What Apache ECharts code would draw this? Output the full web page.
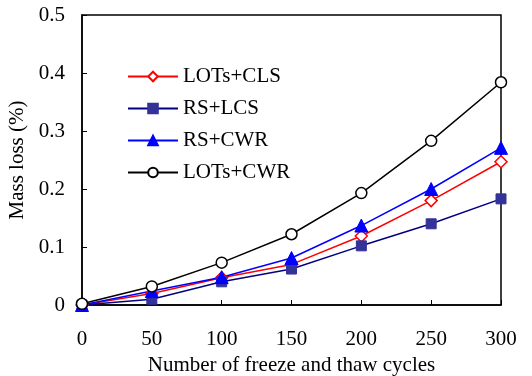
<!DOCTYPE html>
<html>
<head>
<meta charset="UTF-8">
<script src="https://cdn.jsdelivr.net/npm/echarts@6/dist/echarts.min.js"></script>
<style>
    html, body { margin: 0; padding: 0; background: #fff; }
    #chart { width: 532px; height: 376px; }
</style>
</head>
<body>
<div id="chart"></div>
<script>
    // 数据
    var cycles = [0, 50, 100, 150, 200, 250, 300];
    var lotsCls = [0, 0.02, 0.047, 0.07, 0.119, 0.18, 0.247];
    var rsLcs = [0, 0.01, 0.04, 0.062, 0.102, 0.14, 0.183];
    var rsCwr = [0, 0.024, 0.048, 0.081, 0.137, 0.2, 0.271];
    var lotsCwr = [0.002, 0.032, 0.073, 0.122, 0.193, 0.283, 0.384];

    function pairs(ys) {
        return cycles.map(function (x, i) { return [x, ys[i]]; });
    }

    var font = 'Liberation Serif';
    var chart = echarts.init(document.getElementById('chart'));
    var option = {
        animation: false,
        textStyle: { fontFamily: font },
        grid: {
            left: 82, right: 31, top: 15, bottom: 71,
            outerBoundsMode: 'none', containLabel: false,
            show: true, borderColor: '#000', borderWidth: 1.5
        },
        legend: {
            orient: 'vertical',
            left: 122, top: 61,
            itemWidth: 50, itemHeight: 12, itemGap: 11,
            textStyle: { fontFamily: font, fontSize: 21, color: '#000' },
            data: ['LOTs+CLS', 'RS+LCS', 'RS+CWR', 'LOTs+CWR']
        },
        xAxis: {
            type: 'value',
            min: 0, max: 300, interval: 50,
            name: 'Number of freeze and thaw cycles',
            nameLocation: 'middle', nameGap: 48,
            nameTextStyle: { fontFamily: font, fontSize: 21, color: '#000' },
            axisLine: { lineStyle: { color: '#000', width: 1.5 } },
            axisTick: { inside: true, length: 5, lineStyle: { color: '#000' } },
            axisLabel: { fontFamily: font, fontSize: 21, color: '#000', margin: 24 },
            splitLine: { show: false }
        },
        yAxis: {
            type: 'value',
            min: 0, max: 0.5, interval: 0.1,
            name: 'Mass loss (%)',
            nameLocation: 'middle', nameGap: 42,
            nameTextStyle: { fontFamily: font, fontSize: 21, color: '#000' },
            axisLine: { lineStyle: { color: '#000', width: 1.5 } },
            axisTick: { inside: true, length: 5, lineStyle: { color: '#000' } },
            axisLabel: { fontFamily: font, fontSize: 21, color: '#000', margin: 17,
                formatter: function (v) { return v === 0 ? '0' : v.toFixed(1); } },
            splitLine: { show: false }
        },
        series: [
            {
                name: 'LOTs+CLS', type: 'line', data: pairs(lotsCls),
                symbol: 'diamond', symbolSize: 12, showAllSymbol: true,
                lineStyle: { color: '#ff0000', width: 1.5 },
                itemStyle: { color: '#fff', borderColor: '#ff0000', borderWidth: 1.5 }
            },
            {
                name: 'RS+LCS', type: 'line', data: pairs(rsLcs),
                symbol: 'rect', symbolSize: 10,
                lineStyle: { color: '#000080', width: 1.5 },
                itemStyle: { color: '#333399', borderColor: '#333399', borderWidth: 1 }
            },
            {
                name: 'RS+CWR', type: 'line', data: pairs(rsCwr),
                symbol: 'triangle', symbolSize: 13,
                lineStyle: { color: '#0000ff', width: 1.5 },
                itemStyle: { color: '#0000ff', borderColor: '#0000ff', borderWidth: 1 }
            },
            {
                name: 'LOTs+CWR', type: 'line', data: pairs(lotsCwr),
                symbol: 'circle', symbolSize: 11,
                lineStyle: { color: '#000', width: 1.5 },
                itemStyle: { color: '#fff', borderColor: '#000', borderWidth: 1.5 }
            }
        ]
    };
    chart.setOption(option);
</script>
</body>
</html>
